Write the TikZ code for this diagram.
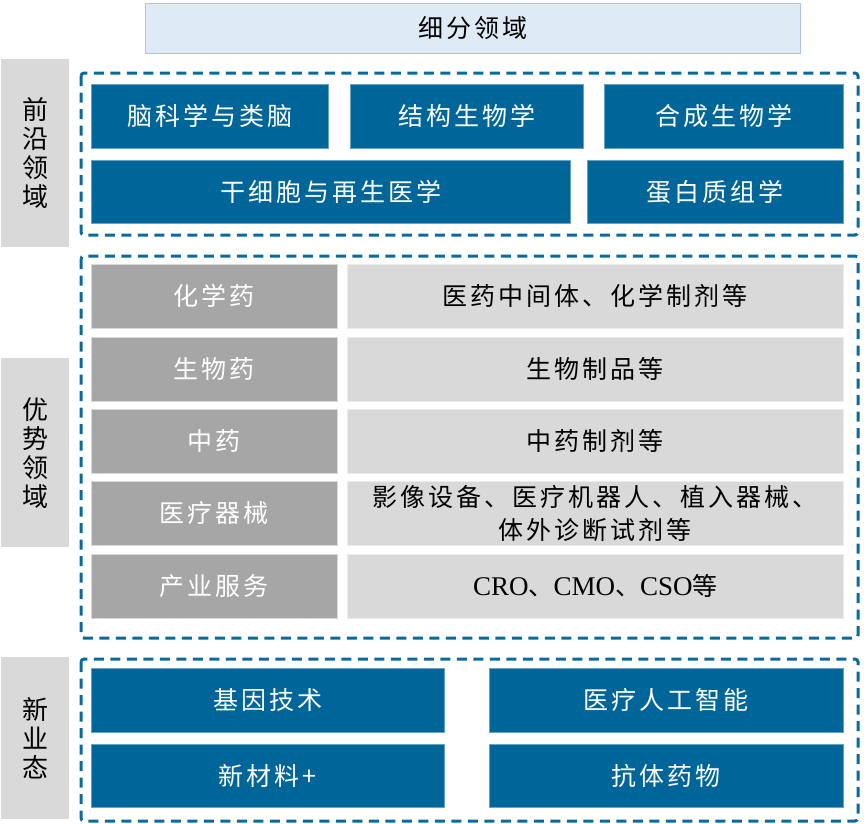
\documentclass[tikz,border=0pt]{standalone}
\usepackage{fontspec}
\setmainfont{Noto Sans CJK SC}[LetterSpace=12]
\newfontfamily\latinfont{Liberation Serif}
\usepackage{xcolor}
\usepackage{tikz}
\usetikzlibrary{positioning,calc}

\definecolor{deepblue}{HTML}{006699}
\definecolor{dashblue}{HTML}{0A6A9E}
\definecolor{lightgray}{HTML}{D9D9D9}
\definecolor{midgray}{HTML}{A6A6A6}
\definecolor{paleblue}{HTML}{DEEBF7}

\begin{document}
\begin{tikzpicture}[
    x=1pt, y=-1pt,
    cell/.style={anchor=north west, inner sep=0pt, align=center, font=\fontsize{25}{33}\selectfont},
    bluecell/.style={cell, fill=deepblue, draw=deepblue!60!white, line width=0.6pt, text=white},
    darkcell/.style={cell, fill=midgray, draw=white!85!black, line width=0.6pt, text=white},
    lightcell/.style={cell, fill=lightgray, draw=white!92!black, line width=0.6pt, text=black},
    sidelabel/.style={cell, fill=lightgray, minimum width=68pt, text=black, font=\fontsize{26}{29}\selectfont},
    dashframe/.style={draw=dashblue, line width=3pt, dash pattern=on 10pt off 6.5pt, rounded corners=3pt}
]
    \useasboundingbox (0,0) rectangle (864,823);

    % header
    \node[cell, fill=paleblue, draw=paleblue!80!blue, line width=0.6pt, minimum width=655pt, minimum height=50pt] (head) at (145,3) {细分领域};

    % side labels
    \node[sidelabel, minimum height=188pt] (frontier) at (1,59) {前\\沿\\领\\域};
    \node[sidelabel, minimum height=189pt] (advantage) at (1,358) {优\\势\\领\\域};
    \node[sidelabel, minimum height=162pt] (newform) at (1,657) {新\\业\\态};

    % dashed frames
    \draw[dashframe] (81,73) rectangle (858,235);
    \draw[dashframe] (81,256) rectangle (858,638);
    \draw[dashframe] (81,659) rectangle (858,821);

    % frontier fields
    \node[bluecell, minimum width=237pt, minimum height=64pt] (brain) at (91,84) {脑科学与类脑};
    \node[bluecell, minimum width=233pt, minimum height=64pt] (struct) at (350,84) {结构生物学};
    \node[bluecell, minimum width=239pt, minimum height=64pt] (synth) at (604,84) {合成生物学};
    \node[bluecell, minimum width=479pt, minimum height=63pt] (stem) at (91,160) {干细胞与再生医学};
    \node[bluecell, minimum width=256pt, minimum height=63pt] (protein) at (587,160) {蛋白质组学};

    % advantage fields
    \node[darkcell, minimum width=246pt, minimum height=64pt] (chem) at (91,264) {化学药};
    \node[lightcell, minimum width=496pt, minimum height=64pt] (chemx) at (347,264) {医药中间体、化学制剂等};
    \node[darkcell, minimum width=246pt, minimum height=64pt] (bio) at (91,337) {生物药};
    \node[lightcell, minimum width=496pt, minimum height=64pt] (biox) at (347,337) {生物制品等};
    \node[darkcell, minimum width=246pt, minimum height=64pt] (tcm) at (91,409) {中药};
    \node[lightcell, minimum width=496pt, minimum height=64pt] (tcmx) at (347,409) {中药制剂等};
    \node[darkcell, minimum width=246pt, minimum height=64pt] (device) at (91,481) {医疗器械};
    \node[lightcell, minimum width=496pt, minimum height=64pt] (devicex) at (347,481) {影像设备、医疗机器人、植入器械、\\体外诊断试剂等};
    \node[darkcell, minimum width=246pt, minimum height=64pt] (service) at (91,554) {产业服务};
    \node[lightcell, minimum width=496pt, minimum height=64pt] (servicex) at (347,554) {{\latinfont\fontsize{27}{33}\selectfont CRO}、{\latinfont\fontsize{27}{33}\selectfont CMO}、{\latinfont\fontsize{27}{33}\selectfont CSO}等};

    % new forms
    \node[bluecell, minimum width=353pt, minimum height=64pt] (gene) at (91,668) {基因技术};
    \node[bluecell, minimum width=354pt, minimum height=64pt] (medai) at (489,668) {医疗人工智能};
    \node[bluecell, minimum width=353pt, minimum height=63pt] (material) at (91,744) {新材料+};
    \node[bluecell, minimum width=354pt, minimum height=63pt] (antibody) at (489,744) {抗体药物};
\end{tikzpicture}
\end{document}
